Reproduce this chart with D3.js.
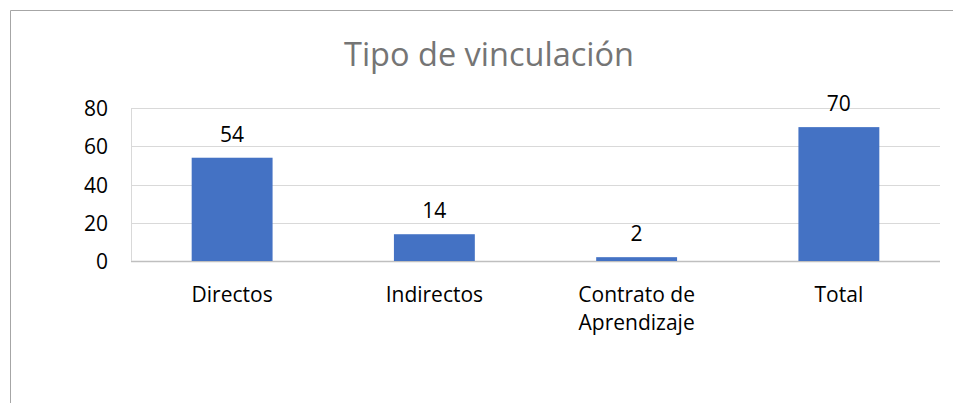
<!DOCTYPE html>
<meta charset="utf-8">
<style>

body {
  margin: 0;
  background: #fff;
}

text {
  font-family: "Open Sans", sans-serif;
}

</style>
<body>
<script src="https://d3js.org/d3.v7.min.js"></script>
<script>

var categories = [["Directos"], ["Indirectos"], ["Contrato de", "Aprendizaje"], ["Total"]],
    values = [54, 14, 2, 70],
    yTicks = [0, 20, 40, 60, 80];

var width = 953,
    height = 403,
    margin = {top: 108, right: 13, bottom: 142, left: 131};

var svg = d3.select("body").append("svg")
    .attr("width", width)
    .attr("height", height);

// outer frame (only top and left visible)
svg.append("path")
    .attr("d", "M10.5," + height + "V10.5H" + width)
    .attr("fill", "none")
    .attr("stroke", "#a6a6a6");

svg.append("text")
    .attr("x", 489)
    .attr("y", 66)
    .attr("text-anchor", "middle")
    .attr("font-size", 32.5)
    .attr("fill", "#757575")
    .text("Tipo de vinculación");

var x = d3.scaleBand()
    .domain(d3.range(categories.length))
    .range([margin.left, width - margin.right]);

var y = d3.scaleLinear()
    .domain([0, 80])
    .range([height - margin.bottom, margin.top]);

svg.append("g")
    .selectAll("line")
    .data(yTicks)
  .join("line")
    .attr("x1", margin.left)
    .attr("x2", width - margin.right)
    .attr("y1", function(d) { return Math.round(y(d)) + 0.5; })
    .attr("y2", function(d) { return Math.round(y(d)) + 0.5; })
    .attr("stroke", function(d) { return d === 0 ? "#bfbfbf" : "#d9d9d9"; })
    .attr("stroke-width", function(d) { return d === 0 ? 1.5 : 1; });

svg.append("line")
    .attr("x1", margin.left + 0.5)
    .attr("x2", margin.left + 0.5)
    .attr("y1", y(80))
    .attr("y2", y(0))
    .attr("stroke", "#d9d9d9");

svg.append("g")
    .selectAll("text")
    .data(yTicks)
  .join("text")
    .attr("x", 108)
    .attr("y", function(d) { return y(d) + 8; })
    .attr("text-anchor", "end")
    .attr("font-size", 21)
    .attr("fill", "#000")
    .text(function(d) { return d; });

var barWidth = x.bandwidth() * 0.4;

svg.append("g")
    .selectAll("rect")
    .data(values)
  .join("rect")
    .attr("x", function(d, i) { return x(i) + (x.bandwidth() - barWidth) / 2; })
    .attr("y", function(d) { return y(d); })
    .attr("width", barWidth)
    .attr("height", function(d) { return y(0) - y(d); })
    .attr("fill", "#4472c4");

svg.append("g")
    .selectAll("text")
    .data(values)
  .join("text")
    .attr("x", function(d, i) { return x(i) + x.bandwidth() / 2; })
    .attr("y", function(d) { return y(d) - 16; })
    .attr("text-anchor", "middle")
    .attr("font-size", 21)
    .attr("fill", "#000")
    .text(function(d) { return d; });

svg.append("g")
    .selectAll("text")
    .data(categories)
  .join("text")
    .attr("x", function(d, i) { return x(i) + x.bandwidth() / 2; })
    .attr("y", 302)
    .attr("text-anchor", "middle")
    .attr("font-size", 21)
    .attr("fill", "#000")
  .selectAll("tspan")
    .data(function(d) { return d; })
  .join("tspan")
    .attr("x", function() { return d3.select(this.parentNode).attr("x"); })
    .attr("dy", function(d, i) { return i ? 28 : 0; })
    .text(function(d) { return d; });

</script>
